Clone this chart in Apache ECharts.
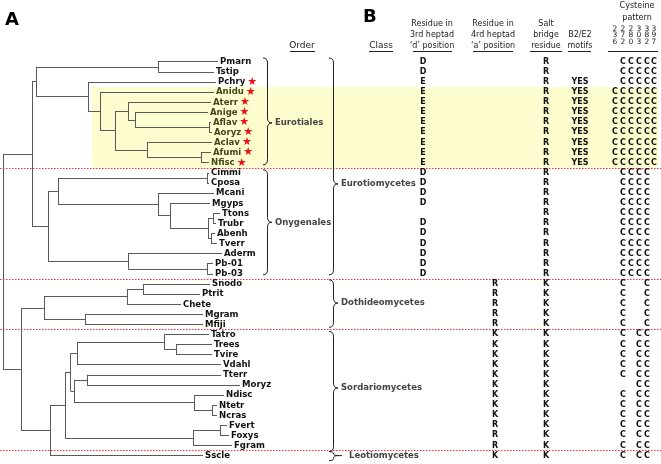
<!DOCTYPE html>
<html><head><meta charset="utf-8">
<script src="https://cdn.jsdelivr.net/npm/echarts@6/dist/echarts.min.js"></script>
<style>html,body{margin:0;padding:0;background:#fff}#c{width:661px;height:464px}</style>
</head><body><div id="c"></div>
<script>
// ---------------- DATA ----------------
const leaves = ['Pmarn','Tstip','Pchry','Anidu','Aterr','Anige','Aflav','Aoryz','Aclav','Afumi','Nfisc',
  'Cimmi','Cposa','Mcani','Mgyps','Ttons','Trubr','Abenh','Tverr','Aderm','Pb-01','Pb-03',
  'Snodo','Ptrit','Chete','Mgram','Mfiji',
  'Tatro','Trees','Tvire','Vdahl','Tterr','Moryz','Ndisc','Ntetr','Ncras','Fvert','Foxys','Fgram',
  'Sscle'];
// tip depth (branch end) of each leaf
const tipDepth = [218,214,216,214,211,208,211,212,212,211,209,
  209,209,214,210,220,216,215,217,222,213,213,
  210,200,181,203,203,
  209,212,212,221,221,240,224,217,217,227,229,232,
  203];
// internal node depths (cladogram)
const tree = {x:3, c:[
  {x:32, c:[
    {x:36, c:[
      {x:158, c:['Pmarn','Tstip']},
      {x:88, c:['Pchry',
        {x:100, c:['Anidu',
          {x:115, c:[
            {x:128, c:['Aterr', {x:135, c:['Anige', {x:209, c:['Aflav','Aoryz']}]}]},
            {x:147, c:['Aclav', {x:201, c:['Afumi','Nfisc']}]}
          ]}
        ]}
      ]}
    ]},
    {x:48, c:[
      {x:58, c:[
        {x:207, c:['Cimmi','Cposa']},
        {x:158, c:['Mcani', {x:170, c:['Mgyps', {x:208, c:[{x:213, c:['Ttons','Trubr']}, {x:211, c:['Abenh','Tverr']}]}]}]}
      ]},
      {x:128, c:['Aderm', {x:207, c:['Pb-01','Pb-03']}]}
    ]}
  ]},
  {x:21, c:[
    {x:44, c:[
      {x:127, c:[{x:143, c:['Snodo','Ptrit']}, 'Chete']},
      {x:85, c:['Mgram','Mfiji']}
    ]},
    {x:50, c:[
      {x:65, c:[
        {x:70.7, c:[
          {x:77, c:[{x:164, c:['Tatro', {x:176, c:['Trees','Tvire']}]}, 'Vdahl']},
          {x:74, c:[{x:87, c:['Tterr','Moryz']}, {x:194, c:['Ndisc', {x:212, c:['Ntetr','Ncras']}]}]}
        ]},
        {x:193, c:[{x:220, c:['Fvert','Foxys']}, 'Fgram']}
      ]},
      'Sscle'
    ]}
  ]}
]};
const starred = ['Pchry','Anidu','Aterr','Anige','Aflav','Aoryz','Aclav','Afumi','Nfisc'];
const highlighted = ['Anidu','Aterr','Anige','Aflav','Aoryz','Aclav','Afumi','Nfisc'];
const groupSizes = [11, 11, 5, 12, 1];

// order braces: [label, firstRow, lastRow, labelRow]
const orders = [['Eurotiales',-0.37,10.2,6.07],['Onygenales',10.7,21.1,15.9]];
// class braces
const classes = [['Eurotiomycetes',-0.37,21.1,12.1],['Dothideomycetes',21.6,26.3,23.9],
  ['Sordariomycetes',26.7,38.6,32.3],['Leotiomycetes',38.6,39.5,39.0]];

// table columns
const resD = ['D','D','E','E','E','E','E','E','E','E','E',
  'D','D','D','D','','D','D','D','D','D','D',
  '','','','','',
  '','','','','','','','','','','','',
  ''];
const resA = ['','','','','','','','','','','',
  '','','','','','','','','','','',
  'R','R','R','R','R',
  'K','K','K','K','K','K','K','K','K','R','R','R',
  'K'];
const saltBridge = ['R','R','R','R','R','R','R','R','R','R','R',
  'R','R','R','R','R','R','R','R','R','R','R',
  'K','K','K','K','K',
  'K','K','K','K','K','K','K','K','K','K','K','K',
  'K'];
const b2e2 = ['','','YES','YES','YES','YES','YES','YES','YES','YES','YES',
  '','','','','','','','','','','',
  '','','','','',
  '','','','','','','','','','','','',
  ''];
const cysPositions = ['236','272','280','303','382','397'];
const cysPattern = [' CCCCC',' CCCCC',' CCCCC','CCCCCC','CCCCCC','CCCCCC','CCCCCC','CCCCCC','CCCCCC','CCCCCC','CCCCCC',
  ' CCCC ',' CCCC ',' CCCC ',' CCCC ',' CCCC ',' CCCC ',' CCCC ',' CCCC ',' CCCC ',' CCCC ',' CCCC ',
  ' C  C ',' C  C ',' C  C ',' C  C ',' C  C ',
  ' C CC ',' C CC ',' C CC ',' C CC ',' C CC ','   CC ',' C CC ',' C CC ',' C CC ',' C CC ',' C CC ',' C CC ',
  ' C CC '];
const colHeaders = [['Residue in','3rd heptad','\u2018d\u2019 position'],['Residue in','4rd heptad','\u2018a\u2019 position'],
  ['Salt','bridge','residue'],['B2/E2','motifs'],['Cysteine','pattern']];

// ---------------- LAYOUT ----------------
const colX = {d:423, a:495, salt:546, b2:580};
const cysX = [615,623,631,639,647,654];
const Y0 = -6.11, Y1 = 39.83;
const rowOf = {}; leaves.forEach((n,i)=>rowOf[n]=i);

const segs = [];
function lay(node){
  if (typeof node === 'string') { const i = rowOf[node]; return {x: tipDepth[i], y: i}; }
  const ch = node.c.map(lay);
  const y0 = ch[0].y, y1 = ch[ch.length-1].y;
  segs.push([[node.x, y0],[node.x, y1]]);
  ch.forEach(c => segs.push([[node.x, c.y],[c.x, c.y]]));
  return {x: node.x, y: (y0 + y1) / 2};
}
lay(tree);

const boundaries = []; let acc = 0;
groupSizes.slice(0,-1).forEach(s => { acc += s; boundaries.push(acc - 0.5); });
const hlRows = highlighted.map(n => rowOf[n]);
const hlTop = Math.min(...hlRows) - 0.5, hlBot = Math.max(...hlRows) + 0.5;

const tableItems = [];
leaves.forEach((n,i)=>{
  if (resD[i]) tableItems.push([colX.d, i, resD[i]]);
  if (resA[i]) tableItems.push([colX.a, i, resA[i]]);
  if (saltBridge[i]) tableItems.push([colX.salt, i, saltBridge[i]]);
  if (b2e2[i]) tableItems.push([colX.b2, i, b2e2[i]]);
  cysPattern[i].split('').forEach((ch,k)=>{ if (ch !== ' ') tableItems.push([cysX[k], i, ch]); });
});

const FB = 'DejaVu Sans';
const FC = "'DejaVu Sans Condensed', 'Liberation Sans Narrow', 'Liberation Sans', sans-serif";

function braceSeries(list, x0, w, z){
  return {type:'custom', z:z, silent:true, data: list.map(d => [x0, d[1], d[2], d[3], d[0]]),
    renderItem: (params, api) => {
      const d = list[params.dataIndex];
      const pT = api.coord([x0, d[1]]), pB = api.coord([x0, d[2]]), pM = api.coord([x0, d[3]]);
      const xl = pT[0], xm = xl + w/2, xr = xl + w;
      const r = Math.min(5, (pB[1]-pT[1])/4);
      const small = (pB[1]-pT[1]) < 15;
      const path = `M${xl} ${pT[1]} Q${xm} ${pT[1]} ${xm} ${pT[1]+r} L${xm} ${pM[1]-r} Q${xm} ${pM[1]} ${xr} ${pM[1]} Q${xm} ${pM[1]} ${xm} ${pM[1]+r} L${xm} ${pB[1]-r} Q${xm} ${pB[1]} ${xl} ${pB[1]}`;
      const ch = [
        {type:'path', shape:{pathData:path}, style:{fill:null, stroke:'#222', lineWidth:1}},
        {type:'text', x:xr + (small ? 11 : 3), y:pM[1], style:{text:d[0], font:`bold 8.5px ${FB}`, fill:'#444', align:'left', verticalAlign:'middle'}}
      ];
      if (small) ch.push({type:'line', shape:{x1:xr, y1:pM[1], x2:xr+4, y2:pM[1]}, style:{stroke:'#222', lineWidth:1}});
      return {type:'group', children:ch};
    }};
}

const chart = echarts.init(document.getElementById('c'), null, {renderer:'canvas'});
chart.setOption({
  animation:false,
  grid:{left:0,right:0,top:0,bottom:0},
  xAxis:{type:'value',min:0,max:661,show:false},
  yAxis:{type:'value',min:Y0,max:Y1,inverse:true,show:false},
  series:[
    {type:'custom', z:1, silent:true, data:[[92, hlTop, 658, hlBot]],
      renderItem:(p, api)=>{
        const a = api.coord([api.value(0), api.value(1)]), b = api.coord([api.value(2), api.value(3)]);
        return {type:'rect', shape:{x:a[0], y:a[1], width:b[0]-a[0], height:b[1]-a[1]}, style:{fill:'#fdfdcf'}};
      }},
    {type:'lines', coordinateSystem:'cartesian2d', z:3, silent:true,
      data: boundaries.map(b => ({coords:[[0,b],[661,b]]})),
      lineStyle:{color:'#ff2a2a', width:1, type:[1.5,1.5], opacity:1}},
    {type:'lines', coordinateSystem:'cartesian2d', z:4, silent:true,
      data: segs.map(s => ({coords:s})),
      lineStyle:{color:'#5a5a5a', width:1, opacity:1}},
    {type:'custom', z:5, silent:true, data: leaves.map((n,i)=>[tipDepth[i], i]),
      renderItem:(p, api)=>{
        const n = leaves[p.dataIndex];
        const pt = api.coord([api.value(0), api.value(1)]);
        const hl = highlighted.includes(n);
        const txt = '{n|' + n + '}' + (starred.includes(n) ? '{s|\u2605}' : '');
        return {type:'text', x:pt[0]+2, y:pt[1], style:{text:txt, align:'left', verticalAlign:'middle',
          rich:{n:{font:`bold 9.5px ${FC}`, fill: hl ? '#45451c' : '#111'}, s:{font:`11px ${FB}`, fill:'#e8141a', padding:[0,0,0,2]}}}};
      }},
    braceSeries(orders, 263, 9, 5),
    braceSeries(classes, 329, 9, 5),
    {type:'custom', z:5, silent:true, data: tableItems,
      renderItem:(p, api)=>{
        const it = tableItems[p.dataIndex];
        const pt = api.coord([it[0], it[1]]);
        return {type:'text', x:pt[0], y:pt[1], style:{text:it[2], font:`bold 8px ${FB}`, fill:'#111', align:'center', verticalAlign:'middle'}};
      }}
  ],
  graphic: [
    {type:'text', left:5, top:11, style:{text:'A', font:`900 18px ${FB}`, fill:'#000'}},
    {type:'text', left:363, top:8, style:{text:'B', font:`900 18px ${FB}`, fill:'#000'}},
    {type:'text', x:302, y:46, style:{text:'Order', font:`9px ${FB}`, fill:'#222', align:'center', verticalAlign:'middle'}},
    {type:'line', shape:{x1:290, y1:51.5, x2:315, y2:51.5}, style:{stroke:'#222', lineWidth:1}},
    {type:'text', x:381, y:46, style:{text:'Class', font:`9px ${FB}`, fill:'#222', align:'center', verticalAlign:'middle'}},
    {type:'line', shape:{x1:369, y1:51.5, x2:393, y2:51.5}, style:{stroke:'#222', lineWidth:1}},
    ...[[432,colHeaders[0],413,452],[493,colHeaders[1],473,513],[546,colHeaders[2],530,562],[580,colHeaders[3],568,591]].flatMap(h=>{
      const lines = h[1]; const out = [];
      lines.forEach((t,k)=>{ out.push({type:'text', x:h[0], y:46 - (lines.length-1-k)*11, style:{text:t, font:`8px ${FB}`, fill:'#222', align:'center', verticalAlign:'middle'}}); });
      out.push({type:'line', shape:{x1:h[2], y1:51.5, x2:h[3], y2:51.5}, style:{stroke:'#222', lineWidth:1}});
      return out;
    }),
    {type:'text', x:637, y:6, style:{text:colHeaders[4][0], font:`8px ${FB}`, fill:'#222', align:'center', verticalAlign:'middle'}},
    {type:'text', x:637, y:18, style:{text:colHeaders[4][1], font:`8px ${FB}`, fill:'#222', align:'center', verticalAlign:'middle'}},
    ...cysPositions.flatMap((s,k)=> s.split('').map((ch,j)=>({type:'text', x:cysX[k], y:29 + j*6.3, style:{text:ch, font:`7.5px ${FB}`, fill:'#222', align:'center', verticalAlign:'middle'}}))),
    {type:'line', shape:{x1:608, y1:51.5, x2:658, y2:51.5}, style:{stroke:'#222', lineWidth:1}}
  ]
});
</script></body></html>
